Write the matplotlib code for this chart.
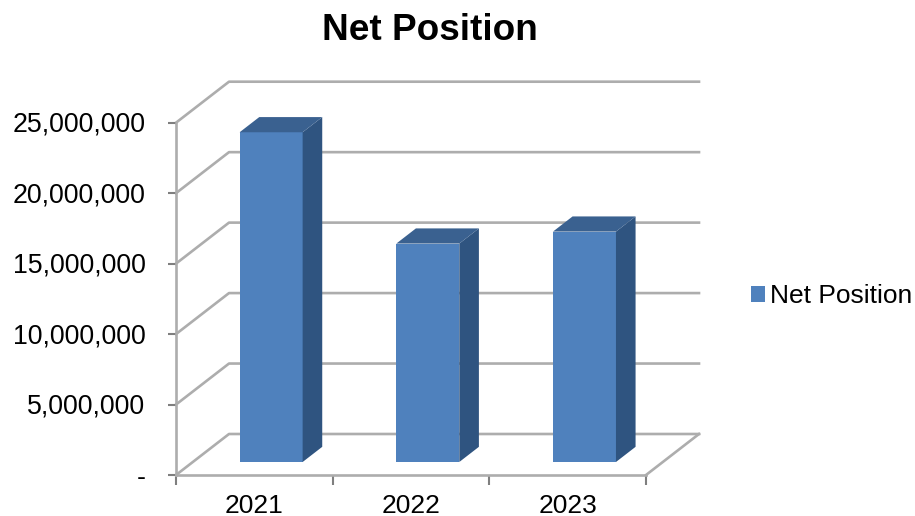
import matplotlib
matplotlib.use("Agg")
import matplotlib.pyplot as plt
from matplotlib.patches import Polygon
from matplotlib.transforms import ScaledTranslation

plt.rcParams['font.family'] = ['Liberation Sans', 'DejaVu Sans']

# Data
years = ["2021", "2022", "2023"]
net_position = [23400000, 15500000, 16350000]
y_ticks = [0, 5000000, 10000000, 15000000, 20000000, 25000000]
y_labels = ["-", "5,000,000", "10,000,000", "15,000,000", "20,000,000", "25,000,000"]

GRID = "#adadad"
FRONT = "#4f81bd"
SIDE = "#2f5480"
TOP = "#3a6190"

# fake 3d: depth of the box in data units
depth_x = 53 / 470 * 3
depth_y = 41 / 352.3 * 25000000
bar_w = 0.402
bar_start = 0.317   # how far back the bar front sits
bar_depth = 0.37    # bar depth as part of the box depth

fig = plt.figure(figsize=(9.15, 5.16), dpi=100)
ax = fig.add_axes([176 / 915, 41 / 516, 470 / 915, 352.3 / 516])
ax.set_xlim(0, 3)
ax.set_ylim(0, 25000000)

# back wall, side wall and floor
for t in y_ticks:
    ax.plot([0, depth_x, 3 + depth_x], [t, t + depth_y, t + depth_y],
            color=GRID, lw=1.9, clip_on=False, zorder=1, solid_joinstyle="round")
ax.plot([3, 3 + depth_x], [0, depth_y], color=GRID, lw=1.9, clip_on=False, zorder=1)

# bars
xs = [i + 0.5 + bar_start * depth_x for i in range(len(years))]
base = bar_start * depth_y
bars = ax.bar(xs, net_position, bar_w, bottom=base, color=FRONT, zorder=3,
              label="Net Position", clip_on=False)
ddx = bar_depth * depth_x
ddy = bar_depth * depth_y
for x, v in zip(xs, net_position):
    l, r = x - bar_w / 2, x + bar_w / 2
    top = base + v
    ax.add_patch(Polygon([(r, base), (r + ddx, base + ddy), (r + ddx, top + ddy), (r, top)],
                         closed=True, fc=SIDE, ec="none", zorder=3, clip_on=False))
    ax.add_patch(Polygon([(l, top), (l + ddx, top + ddy), (r + ddx, top + ddy), (r, top)],
                         closed=True, fc=TOP, ec="none", zorder=3, clip_on=False))

# axes
for s in ["top", "right"]:
    ax.spines[s].set_visible(False)
for s in ["left", "bottom"]:
    ax.spines[s].set_color(GRID)
    ax.spines[s].set_linewidth(1.9)
ax.set_yticks(y_ticks)
ax.set_yticklabels(y_labels, fontsize=19.3)
ax.tick_params(axis="y", length=6, width=1.5, color="#7f7f7f", pad=16)
ax.set_xticks([0, 1, 2, 3])
ax.set_xticklabels([])
ax.set_xticks([0.5, 1.5, 2.5], minor=True)
ax.set_xticklabels(years, minor=True, fontsize=19)
ax.tick_params(axis="x", which="major", length=7, width=1.5, color="#7f7f7f")
ax.tick_params(axis="x", which="minor", length=0, pad=14)

# labels sit a little above their ticks in the original
shift_up = ScaledTranslation(0, 1 / 100, fig.dpi_scale_trans)
for lab in ax.get_yticklabels():
    if lab.get_text() != "-":
        lab.set_transform(lab.get_transform() + shift_up)

fig.text(430 / 915, 1 - 30.5 / 516, "Net Position", fontsize=26.6, fontweight="bold",
         ha="center", va="center")

fig.legend(handles=[bars], labels=["Net Position"], loc="center left",
           bbox_to_anchor=(750.5 / 915, 1 - 296 / 516), frameon=False, fontsize=19,
           handlelength=0.55, handleheight=0.55, handletextpad=0.2,
           borderpad=0, borderaxespad=0)

fig.savefig("out.png", dpi=100, facecolor="white")
